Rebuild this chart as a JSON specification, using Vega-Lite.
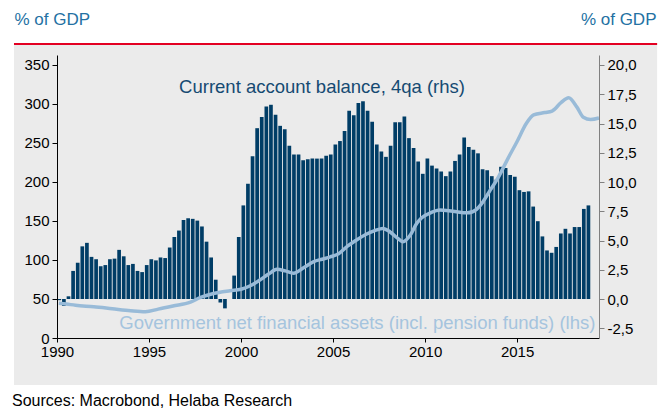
{
  "$schema": "https://vega.github.io/schema/vega-lite/v6.json",
  "width": 542,
  "height": 283,
  "autosize": {"type": "none"},
  "padding": {"left": 57, "top": 55, "right": 70, "bottom": 70},
  "background": "white",
  "title": {
    "text": "Sources: Macrobond, Helaba Research",
    "orient": "bottom",
    "anchor": "start",
    "frame": "group",
    "dx": -45,
    "offset": 8,
    "font": "Liberation Sans",
    "fontSize": 16,
    "fontWeight": "normal",
    "color": "#000000"
  },
  "config": {
    "view": {"stroke": null},
    "axis": {
      "labelFont": "Liberation Sans",
      "labelFontSize": 15,
      "labelColor": "#000000",
      "titleFont": "Liberation Sans",
      "grid": false
    }
  },
  "datasets": {
    "one": [{}],
    "ca": [
      {"t": 1990.125, "v": -0.1}, {"t": 1990.375, "v": -0.6}, {"t": 1990.625, "v": 0.23}, {"t": 1990.875, "v": 2.4},
      {"t": 1991.125, "v": 3.1}, {"t": 1991.375, "v": 4.5}, {"t": 1991.625, "v": 4.8}, {"t": 1991.875, "v": 3.6},
      {"t": 1992.125, "v": 3.4}, {"t": 1992.375, "v": 2.8}, {"t": 1992.625, "v": 2.9}, {"t": 1992.875, "v": 3.4},
      {"t": 1993.125, "v": 3.45}, {"t": 1993.375, "v": 4.2}, {"t": 1993.625, "v": 3.65}, {"t": 1993.875, "v": 2.9},
      {"t": 1994.125, "v": 3.0}, {"t": 1994.375, "v": 2.4}, {"t": 1994.625, "v": 2.3}, {"t": 1994.875, "v": 2.9},
      {"t": 1995.125, "v": 3.4}, {"t": 1995.375, "v": 3.3}, {"t": 1995.625, "v": 3.55}, {"t": 1995.875, "v": 3.5},
      {"t": 1996.125, "v": 4.4}, {"t": 1996.375, "v": 5.3}, {"t": 1996.625, "v": 5.85}, {"t": 1996.875, "v": 6.75},
      {"t": 1997.125, "v": 6.9}, {"t": 1997.375, "v": 6.85}, {"t": 1997.625, "v": 6.7}, {"t": 1997.875, "v": 6.2},
      {"t": 1998.125, "v": 4.9}, {"t": 1998.375, "v": 3.55}, {"t": 1998.625, "v": 1.65}, {"t": 1998.875, "v": -0.3},
      {"t": 1999.125, "v": -0.8}, {"t": 1999.375, "v": 0.0}, {"t": 1999.625, "v": 2.0}, {"t": 1999.875, "v": 5.3},
      {"t": 2000.125, "v": 8.0}, {"t": 2000.375, "v": 9.85}, {"t": 2000.625, "v": 12.2}, {"t": 2000.875, "v": 14.6},
      {"t": 2001.125, "v": 15.55}, {"t": 2001.375, "v": 16.45}, {"t": 2001.625, "v": 16.6}, {"t": 2001.875, "v": 15.75},
      {"t": 2002.125, "v": 14.8}, {"t": 2002.375, "v": 14.5}, {"t": 2002.625, "v": 13.1}, {"t": 2002.875, "v": 12.35},
      {"t": 2003.125, "v": 12.35}, {"t": 2003.375, "v": 11.85}, {"t": 2003.625, "v": 11.95}, {"t": 2003.875, "v": 12.0},
      {"t": 2004.125, "v": 12.0}, {"t": 2004.375, "v": 12.0}, {"t": 2004.625, "v": 12.25}, {"t": 2004.875, "v": 12.35},
      {"t": 2005.125, "v": 13.2}, {"t": 2005.375, "v": 13.5}, {"t": 2005.625, "v": 14.35}, {"t": 2005.875, "v": 16.1},
      {"t": 2006.125, "v": 15.7}, {"t": 2006.375, "v": 16.75}, {"t": 2006.625, "v": 16.9}, {"t": 2006.875, "v": 16.1},
      {"t": 2007.125, "v": 15.15}, {"t": 2007.375, "v": 13.2}, {"t": 2007.625, "v": 12.6}, {"t": 2007.875, "v": 12.15},
      {"t": 2008.125, "v": 13.1}, {"t": 2008.375, "v": 15.1}, {"t": 2008.625, "v": 15.1}, {"t": 2008.875, "v": 15.6},
      {"t": 2009.125, "v": 13.75}, {"t": 2009.375, "v": 12.9}, {"t": 2009.625, "v": 11.75}, {"t": 2009.875, "v": 10.7},
      {"t": 2010.125, "v": 12.0}, {"t": 2010.375, "v": 11.4}, {"t": 2010.625, "v": 11.15}, {"t": 2010.875, "v": 10.9},
      {"t": 2011.125, "v": 10.5}, {"t": 2011.375, "v": 10.9}, {"t": 2011.625, "v": 11.8}, {"t": 2011.875, "v": 12.35},
      {"t": 2012.125, "v": 13.8}, {"t": 2012.375, "v": 13.0}, {"t": 2012.625, "v": 12.75}, {"t": 2012.875, "v": 12.45},
      {"t": 2013.125, "v": 11.1}, {"t": 2013.375, "v": 11.0}, {"t": 2013.625, "v": 10.5}, {"t": 2013.875, "v": 10.2},
      {"t": 2014.125, "v": 11.3}, {"t": 2014.375, "v": 11.2}, {"t": 2014.625, "v": 10.6}, {"t": 2014.875, "v": 10.45},
      {"t": 2015.125, "v": 9.3}, {"t": 2015.375, "v": 9.15}, {"t": 2015.625, "v": 9.2}, {"t": 2015.875, "v": 7.9},
      {"t": 2016.125, "v": 6.65}, {"t": 2016.375, "v": 5.35}, {"t": 2016.625, "v": 4.15}, {"t": 2016.875, "v": 3.95},
      {"t": 2017.125, "v": 4.45}, {"t": 2017.375, "v": 5.6}, {"t": 2017.625, "v": 6.0}, {"t": 2017.875, "v": 5.6},
      {"t": 2018.125, "v": 6.15}, {"t": 2018.375, "v": 6.15}, {"t": 2018.625, "v": 7.7}, {"t": 2018.875, "v": 8.0}
    ],
    "gov": [
      {"t": 1990.1, "g": 44.5}, {"t": 1990.5, "g": 43.5}, {"t": 1991.0, "g": 42}, {"t": 1992.0, "g": 40},
      {"t": 1993.0, "g": 37.5}, {"t": 1994.0, "g": 35}, {"t": 1994.8, "g": 33.8}, {"t": 1995.5, "g": 37},
      {"t": 1996.3, "g": 41}, {"t": 1997.25, "g": 46}, {"t": 1997.8, "g": 52}, {"t": 1998.5, "g": 57},
      {"t": 1999.4, "g": 60.6}, {"t": 2000.0, "g": 62.5}, {"t": 2000.5, "g": 67}, {"t": 2001.0, "g": 74},
      {"t": 2001.5, "g": 82}, {"t": 2001.95, "g": 88}, {"t": 2002.4, "g": 86}, {"t": 2002.85, "g": 83},
      {"t": 2003.4, "g": 90}, {"t": 2003.95, "g": 98}, {"t": 2004.4, "g": 101}, {"t": 2004.85, "g": 104},
      {"t": 2005.3, "g": 108}, {"t": 2005.8, "g": 118}, {"t": 2006.3, "g": 126}, {"t": 2006.8, "g": 133},
      {"t": 2007.3, "g": 138}, {"t": 2007.7, "g": 140.5}, {"t": 2008.1, "g": 136}, {"t": 2008.5, "g": 128},
      {"t": 2008.8, "g": 123.5}, {"t": 2009.2, "g": 132}, {"t": 2009.55, "g": 147}, {"t": 2009.8, "g": 154},
      {"t": 2010.3, "g": 160.5}, {"t": 2010.8, "g": 164}, {"t": 2011.5, "g": 162.5}, {"t": 2012.3, "g": 160.5},
      {"t": 2012.8, "g": 165}, {"t": 2013.0, "g": 170}, {"t": 2013.5, "g": 188}, {"t": 2014.0, "g": 207},
      {"t": 2014.5, "g": 230}, {"t": 2015.0, "g": 252}, {"t": 2015.5, "g": 275}, {"t": 2015.9, "g": 286},
      {"t": 2016.5, "g": 289}, {"t": 2016.9, "g": 291}, {"t": 2017.4, "g": 302}, {"t": 2017.8, "g": 308},
      {"t": 2018.25, "g": 296}, {"t": 2018.6, "g": 283}, {"t": 2019.0, "g": 280}, {"t": 2019.45, "g": 282}
    ]
  },
  "layer": [
    {
      "data": {"name": "one"},
      "mark": {"type": "rect", "color": "#ebebeb"},
      "encoding": {
        "x": {"datum": 1987.663, "type": "quantitative", "scale": {"domain": [1990, 2019.45], "nice": false, "zero": false, "padding": 0}, "title": null},
        "x2": {"datum": 2022.609},
        "y": {"datum": 375.64, "type": "quantitative", "scale": {"domain": [0, 362.82], "nice": false, "zero": false}, "axis": null},
        "y2": {"datum": -60.26}
      }
    },
    {
      "data": {"name": "one"},
      "mark": {"type": "rule", "color": "#e30022", "strokeWidth": 2},
      "encoding": {
        "x": {"datum": 1987.663, "type": "quantitative", "title": null},
        "x2": {"datum": 2022.609},
        "y": {"datum": 376.9, "type": "quantitative", "scale": {"domain": [0, 362.82], "nice": false, "zero": false}, "axis": null}
      }
    },
    {
      "data": {"name": "ca"},
      "mark": {"type": "bar", "color": "#003d66", "size": 3.7},
      "encoding": {
        "x": {
          "field": "t", "type": "quantitative", "title": null,
          "scale": {"domain": [1990, 2019.45], "nice": false, "zero": false, "padding": 0},
          "axis": {
            "zindex": 2,
            "values": [1990, 1995, 2000, 2005, 2010, 2015],
            "format": "d",
            "domainColor": "#000000",
            "tickColor": "#000000",
            "tickSize": 4,
            "labelPadding": 2,
            "labelFlush": false
          }
        },
        "y": {
          "field": "v", "type": "quantitative",
          "scale": {"domain": [-3.33333, 20.8547], "nice": false, "zero": false},
          "axis": {
            "zindex": 2,
            "orient": "right",
            "values": [-2.5, 0, 2.5, 5, 7.5, 10, 12.5, 15, 17.5, 20],
            "labelExpr": "replace(replace(format(datum.value, '.1f'), '.', ','), '\u2212', '-')",
            "domainColor": "#808080",
            "tickColor": "#808080",
            "tickSize": 5,
            "labelPadding": 3,
            "title": "% of GDP",
            "titleAngle": 0,
            "titleAlign": "right",
            "titleBaseline": "alphabetic",
            "titleX": 57,
            "titleY": -31,
            "titleFontSize": 17,
            "titleFontWeight": "normal",
            "titleColor": "#2471a3"
          }
        },
        "y2": {"datum": 0}
      }
    },
    {
      "data": {"name": "gov"},
      "mark": {"type": "line", "color": "#99bbd8", "strokeWidth": 3.5, "interpolate": "monotone"},
      "encoding": {
        "x": {"field": "t", "type": "quantitative", "title": null},
        "y": {
          "field": "g", "type": "quantitative",
          "scale": {"domain": [0, 362.82], "nice": false, "zero": false},
          "axis": {
            "zindex": 2,
            "orient": "left",
            "values": [0, 50, 100, 150, 200, 250, 300, 350],
            "domainColor": "#000000",
            "tickColor": "#000000",
            "tickSize": 5,
            "labelPadding": 3,
            "title": "% of GDP",
            "titleAngle": 0,
            "titleAlign": "left",
            "titleBaseline": "alphabetic",
            "titleX": -43,
            "titleY": -31,
            "titleFontSize": 17,
            "titleFontWeight": "normal",
            "titleColor": "#2471a3"
          }
        }
      }
    },
    {
      "data": {"name": "one"},
      "mark": {"type": "text", "text": "Current account balance, 4qa (rhs)", "font": "Liberation Sans", "fontSize": 18.5, "color": "#154a72", "align": "center", "baseline": "alphabetic"},
      "encoding": {
        "x": {"datum": 2004.4, "type": "quantitative", "title": null},
        "y": {"datum": 314.5, "type": "quantitative", "scale": {"domain": [0, 362.82], "nice": false, "zero": false}, "axis": null}
      }
    },
    {
      "data": {"name": "one"},
      "mark": {"type": "text", "text": "Government net financial assets (incl. pension funds) (lhs)", "font": "Liberation Sans", "fontSize": 18.5, "color": "#a5c4de", "align": "center", "baseline": "alphabetic"},
      "encoding": {
        "x": {"datum": 2006.32, "type": "quantitative", "title": null},
        "y": {"datum": 11.2, "type": "quantitative", "scale": {"domain": [0, 362.82], "nice": false, "zero": false}, "axis": null}
      }
    }
  ],
  "resolve": {"scale": {"y": "independent"}}
}
